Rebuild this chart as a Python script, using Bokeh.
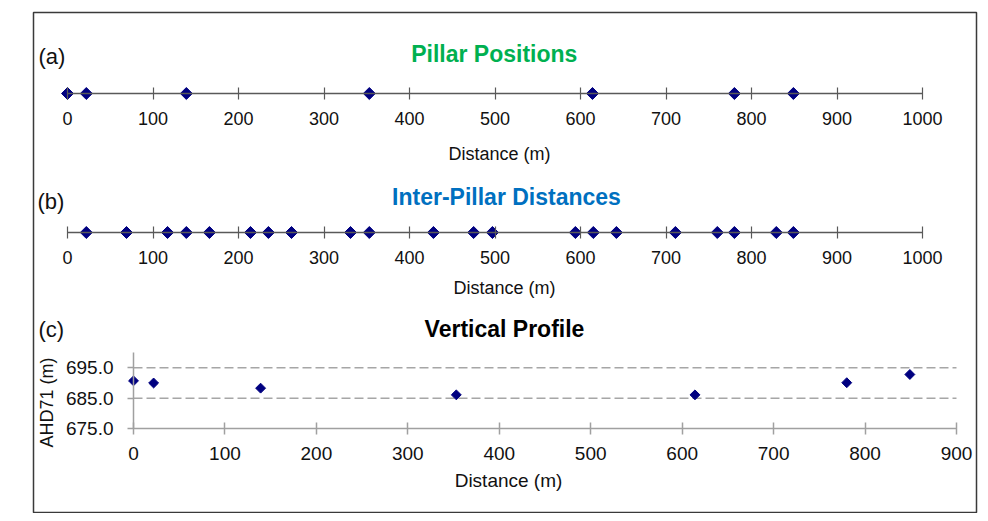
import math
from bokeh.plotting import figure
from bokeh.models import Range1d, LinearAxis, FixedTicker, Label, PrintfTickFormatter
from bokeh.embed import file_html
from bokeh.resources import INLINE

# ---------------- data ----------------
pillar_positions = [0, 22, 139, 353, 614, 780, 849]
inter_pillar_distances = [22, 69, 117, 139, 166, 214, 235, 262, 331, 353, 428,
                          475, 497, 594, 615, 642, 711, 760, 780, 829, 849]
profile_distance = [0, 22, 139, 353, 614, 780, 849]
profile_ahd71 = [690.7, 690.0, 688.3, 686.1, 686.1, 690.1, 692.8]

distance_ticks = [0, 100, 200, 300, 400, 500, 600, 700, 800, 900, 1000]
profile_distance_ticks = [0, 100, 200, 300, 400, 500, 600, 700, 800, 900]
profile_height_ticks = [675.0, 685.0, 695.0]
profile_height_max = 700.0

titles = ["Pillar  Positions", "Inter-Pillar Distances", "Vertical Profile"]
panel_tags = ["(a)", "(b)", "(c)"]
x_title = "Distance (m)"
y_title = "AHD71 (m)"

# ---------------- layout ----------------
W, H, OFF = 980, 513, 0
FL, FT, FR, FB = 33, 12, 976, 513          # frame edges in page pixels
FONT = "Liberation Sans"


def rng(v0, p0, v1, p1, lo, hi):
    k = (v1 - v0) / (p1 - p0)
    return Range1d(start=v0 + (lo - p0) * k, end=v0 + (hi - p0) * k)


p = figure(width=W, height=H, output_backend="svg", toolbar_location=None,
           x_axis_type=None, y_axis_type=None,
           x_range=rng(0, 67, 1000, 922, FL, FR),
           y_range=rng(0, 93, 1, 92, FB, FT),
           min_border_left=FL - OFF, min_border_right=OFF + W - FR,
           min_border_top=FT - OFF, min_border_bottom=OFF + H - FB)
p.extra_x_ranges = {"c": rng(0, 133, 900, 956, FL, FR),
                    "px": Range1d(start=FL, end=FR)}
p.extra_y_ranges = {"b": rng(0, 232, 1, 231, FB, FT),
                    "c": rng(685, 397.7, 695, 367.3, FB, FT),
                    "py": Range1d(start=FB, end=FT)}
p.outline_line_color = "#3a3a3a"
p.outline_line_width = 1.5
p.background_fill_color = "white"
p.border_fill_color = "white"

NAVY = "#000080"


def strip_axis(y_name):
    ax = LinearAxis(y_range_name=y_name, fixed_location=0,
                    bounds=(distance_ticks[0], distance_ticks[-1]),
                    ticker=FixedTicker(ticks=distance_ticks))
    ax.axis_line_color = "#595959"
    ax.axis_line_width = 1.5
    ax.major_tick_line_color = "#595959"
    ax.major_tick_line_width = 1.2
    ax.major_tick_in = 6
    ax.major_tick_out = 6
    ax.minor_tick_line_color = None
    ax.major_label_text_font = FONT
    ax.major_label_text_font_size = "18px"
    ax.major_label_text_color = "#111111"
    ax.major_label_standoff = 12
    p.add_layout(ax, "below")


# panel (a)
strip_axis("default")
p.scatter(x=pillar_positions, y=[0] * len(pillar_positions), marker="square",
          angle=math.pi / 4, size=8.5, fill_color=NAVY, line_color=NAVY)

# panel (b)
strip_axis("b")
p.scatter(x=inter_pillar_distances, y=[0] * len(inter_pillar_distances),
          marker="square", angle=math.pi / 4, size=8.5, fill_color=NAVY,
          line_color=NAVY, y_range_name="b")

# panel (c)
grid_y = profile_height_ticks[1:]
p.segment(x0=[profile_distance_ticks[0]] * len(grid_y),
          x1=[profile_distance_ticks[-1]] * len(grid_y),
          y0=grid_y, y1=grid_y, x_range_name="c", y_range_name="c",
          line_color="#A6A6A6", line_width=1.5, line_dash="9 4")

axc = LinearAxis(x_range_name="c", y_range_name="c",
                 fixed_location=profile_height_ticks[0],
                 bounds=(profile_distance_ticks[0], profile_distance_ticks[-1]),
                 ticker=FixedTicker(ticks=profile_distance_ticks))
ayc = LinearAxis(x_range_name="c", y_range_name="c",
                 fixed_location=profile_distance_ticks[0],
                 bounds=(profile_height_ticks[0], profile_height_max),
                 ticker=FixedTicker(ticks=profile_height_ticks),
                 formatter=PrintfTickFormatter(format="%.1f"))
for ax in (axc, ayc):
    ax.axis_line_color = "#A0A0A0"
    ax.axis_line_width = 1.5
    ax.major_tick_line_color = "#A0A0A0"
    ax.major_tick_line_width = 1.5
    ax.minor_tick_line_color = None
    ax.major_label_text_font = FONT
    ax.major_label_text_font_size = "19px"
    ax.major_label_text_color = "#111111"
axc.major_tick_in = 6
axc.major_tick_out = 6
axc.major_label_standoff = 12
ayc.major_tick_in = 0
ayc.major_tick_out = 6
ayc.major_label_standoff = 14
p.add_layout(axc, "below")
p.add_layout(ayc, "left")

p.scatter(x=profile_distance, y=profile_ahd71, marker="square", angle=math.pi / 4,
          size=7, fill_color=NAVY, line_color=NAVY,
          x_range_name="c", y_range_name="c")


# ---------------- texts (centred on page pixels) ----------------
def label(text, x, y, size, color="#111111", bold=False, align="center",
          angle=0.0):
    p.add_layout(Label(x=x, y=y, text=text, x_range_name="px", y_range_name="py",
                       text_font=FONT, text_font_size=size, text_color=color,
                       text_font_style="bold" if bold else "normal",
                       text_align=align, text_baseline="middle", angle=angle))


label(titles[0], 497, 53, "23px", "#00B050", bold=True)
label(titles[1], 506, 196, "23px", "#0070C0", bold=True)
label(titles[2], 504, 328, "23px", "#000000", bold=True)
label(panel_tags[0], 38, 56, "22px", align="left")
label(panel_tags[1], 37, 201, "22px", align="left")
label(panel_tags[2], 38, 329, "22px", align="left")
label(x_title, 499, 153, "18px")
label(x_title, 504, 287, "18px")
label(x_title, 508, 480, "19px")
label(y_title, 46, 402, "18px", angle=math.pi / 2)

open("out.html", "w").write(file_html(p, INLINE))
